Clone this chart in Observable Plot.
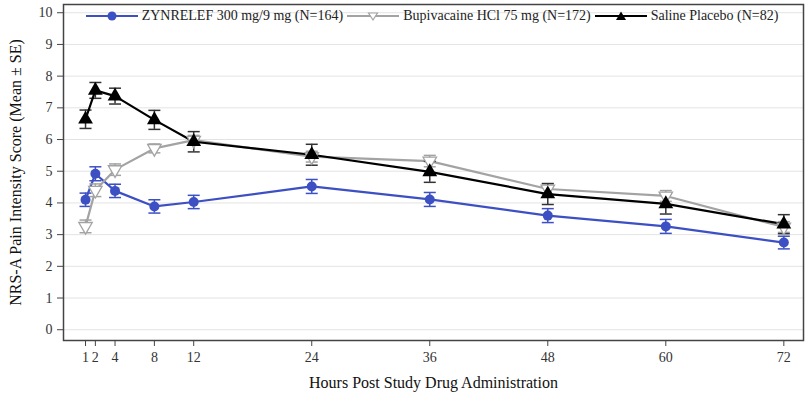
<!DOCTYPE html>
<html><head><meta charset="utf-8">
<script src="https://cdn.jsdelivr.net/npm/d3@7"></script>
<script src="https://cdn.jsdelivr.net/npm/@observablehq/plot@0.6"></script>
<style>
body{margin:0;background:#fff;}
#wrap{position:relative;width:808px;height:397px;font-family:"Liberation Serif","Times New Roman",serif;}
#wrap svg text{font-family:"Liberation Serif","Times New Roman",serif;}
#legend{position:absolute;top:8px;left:63px;width:738px;height:16px;display:flex;justify-content:center;align-items:center;font-size:14px;color:#222;white-space:nowrap;}
.item{display:flex;align-items:center;margin:0 2px;}
.item svg{margin-right:4px;}
</style></head><body><div id="wrap"><div id="legend"></div></div>
<script>
const hours = [1, 2, 4, 8, 12, 24, 36, 48, 60, 72];
const xTicks = [1, 2, 4, 8, 12, 24, 36, 48, 60, 72];
const yTicks = [0, 1, 2, 3, 4, 5, 6, 7, 8, 9, 10];
const seriesNames = ["ZYNRELEF 300 mg/9 mg (N=164)", "Bupivacaine HCl 75 mg (N=172)", "Saline Placebo (N=82)"];
const zynMean = [4.10, 4.92, 4.38, 3.89, 4.03, 4.52, 4.11, 3.60, 3.26, 2.75];
const zynSE   = [0.21, 0.22, 0.21, 0.21, 0.21, 0.22, 0.22, 0.22, 0.22, 0.20];
const bupMean = [3.26, 4.40, 5.05, 5.72, 5.98, 5.46, 5.32, 4.44, 4.22, 3.24];
const bupSE   = [0.20, 0.20, 0.18, 0.14, 0.15, 0.17, 0.18, 0.17, 0.17, 0.17];
const salMean = [6.64, 7.55, 7.37, 6.62, 5.93, 5.52, 4.98, 4.28, 3.97, 3.33];
const salSE   = [0.29, 0.25, 0.25, 0.30, 0.32, 0.33, 0.33, 0.33, 0.32, 0.30];
const xTitle = "Hours Post Study Drug Administration";
const yTitle = "NRS-A Pain Intensity Score (Mean \u00b1 SE)";

const lineColors = ["#3d50c3", "#a3a3a3", "#000000"];
const barColors = ["#3d50c3", "#a3a3a3", "#333333"];
const means = [zynMean, bupMean, salMean];
const ses = [zynSE, bupSE, salSE];
const rowsBy = means.map((m, s) => hours.map((h, i) => ({series: seriesNames[s], hour: h, mean: m[i], se: ses[s][i]})));

const capSymbol = {draw(ctx) { ctx.moveTo(-6, 0); ctx.lineTo(6, 0); }};
const font = '"Liberation Serif","Times New Roman",serif';

const seriesMarks = [];
rowsBy.forEach((rows, s) => {
  seriesMarks.push(
    Plot.ruleX(rows, {x: "hour", y1: d => d.mean - d.se, y2: d => d.mean + d.se, stroke: barColors[s], strokeWidth: 1.5}),
    Plot.dot(rows, {x: "hour", y: d => d.mean - d.se, symbol: capSymbol, stroke: barColors[s], strokeWidth: 1.5, fill: "none"}),
    Plot.dot(rows, {x: "hour", y: d => d.mean + d.se, symbol: capSymbol, stroke: barColors[s], strokeWidth: 1.5, fill: "none"}),
    Plot.line(rows, {x: "hour", y: "mean", stroke: lineColors[s], strokeWidth: 2.2})
  );
});
seriesMarks.push(
  Plot.dot(rowsBy[0], {x: "hour", y: "mean", symbol: "circle", r: 5, fill: lineColors[0], stroke: "none"}),
  Plot.dot(rowsBy[1], {x: "hour", y: "mean", symbol: "triangle", rotate: 180, r: 5, fill: "white", stroke: lineColors[1], strokeWidth: 1.3}),
  Plot.dot(rowsBy[2], {x: "hour", y: "mean", symbol: "triangle", r: 5.5, fill: lineColors[2], stroke: "none"})
);

const chart = Plot.plot({
  width: 808, height: 397,
  marginLeft: 63, marginRight: 5, marginTop: 4, marginBottom: 57,
  style: {fontFamily: font, fontSize: "14px", color: "#333", background: "white"},
  x: {domain: [-1.24, 74.0]},
  y: {domain: [-0.34, 10.26]},
  marks: [
    Plot.gridY(yTicks, {stroke: "#e3e3e3", strokeOpacity: 1}),
    ...seriesMarks,
    Plot.frame({stroke: "#444", strokeWidth: 1.5}),
    Plot.axisY(yTicks, {tickSize: 6, tickPadding: 5, fontSize: 14, label: null, stroke: "#444"}),
    Plot.axisX(xTicks, {tickSize: 6, tickPadding: 6, fontSize: 14, label: null, stroke: "#444"}),
    Plot.text([xTitle], {frameAnchor: "bottom", dy: 47, fontSize: 16, fill: "#111"}),
    Plot.text([yTitle], {frameAnchor: "left", textAnchor: "middle", rotate: -90, dx: -48, fontSize: 16, fill: "#111"})
  ]
});
document.getElementById("wrap").prepend(chart);

// legend
const legend = document.getElementById("legend");
seriesNames.forEach((name, s) => {
  const item = document.createElement("div");
  item.className = "item";
  let marker;
  if (s === 0) marker = `<circle cx="26" cy="6" r="4.5" fill="${lineColors[0]}"/>`;
  else if (s === 1) marker = `<path d="M21.5,3 L30.5,3 L26,10 Z" fill="white" stroke="${lineColors[1]}" stroke-width="1.2"/>`;
  else marker = `<path d="M26,1.5 L31,10 L21,10 Z" fill="${lineColors[2]}"/>`;
  item.innerHTML = `<svg width="52" height="12"><line x1="0" x2="52" y1="6" y2="6" stroke="${lineColors[s]}" stroke-width="2.2"/>${marker}</svg><span>${name}</span>`;
  legend.appendChild(item);
});
</script>
</body></html>
